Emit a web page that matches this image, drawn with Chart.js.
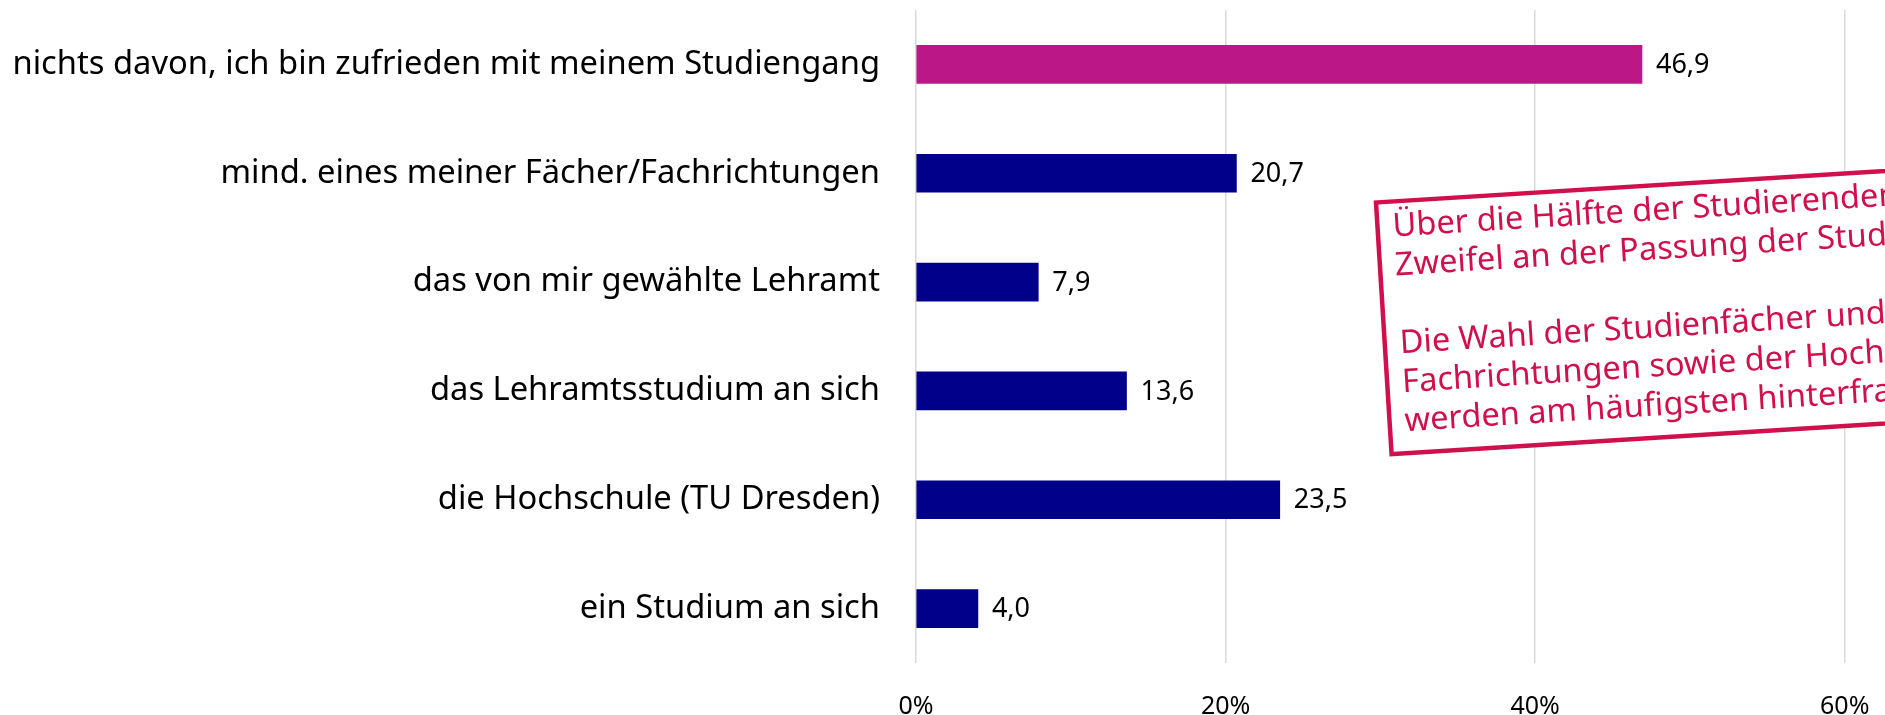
<!DOCTYPE html>
<html lang="de">
<head>
<meta charset="utf-8">
<title>Zweifel an der Studienwahl</title>
<script src="https://cdn.jsdelivr.net/npm/chart.js@4.4.1/dist/chart.umd.min.js"></script>
<style>
  html, body { margin: 0; padding: 0; background: #fff; overflow: hidden; }
  #wrap { width: 1885px; height: 715px; }
</style>
</head>
<body>
<div id="wrap"><canvas id="grafik"></canvas></div>
<script>
const kategorien = [
  'nichts davon, ich bin zufrieden mit meinem Studiengang',
  'mind. eines meiner Fächer/Fachrichtungen',
  'das von mir gewählte Lehramt',
  'das Lehramtsstudium an sich',
  'die Hochschule (TU Dresden)',
  'ein Studium an sich'
];
const anteile = [46.9, 20.7, 7.9, 13.6, 23.5, 4.0];
const tickWerte = [0, 20, 40, 60];
const hinweisZeilen = [
  'Über die Hälfte der Studierenden hat',
  'Zweifel an der Passung der Studienwahl.',
  '',
  'Die Wahl der Studienfächer und',
  'Fachrichtungen sowie der Hochschule',
  'werden am häufigsten hinterfragt.'
];

const PINK = '#bc1786';
const BLAU = '#00008b';
const ROT = '#d0104c';
const SCHRIFT = '"Noto Sans", "Open Sans", sans-serif';

// Werte rechts neben die Balken schreiben
const wertBeschriftung = {
  id: 'wertBeschriftung',
  afterDatasetsDraw(chart) {
    const ctx = chart.ctx;
    const meta = chart.getDatasetMeta(0);
    ctx.save();
    ctx.font = '27px ' + SCHRIFT;
    ctx.fillStyle = '#000';
    ctx.textAlign = 'left';
    ctx.textBaseline = 'middle';
    meta.data.forEach((bar, i) => {
      const text = anteile[i].toFixed(1).replace('.', ',');
      ctx.fillText(text, bar.x + 14, bar.y + 1);
    });
    ctx.restore();
  }
};

// gedrehter Hinweiskasten
const hinweisKasten = {
  id: 'hinweisKasten',
  afterDraw(chart) {
    const ctx = chart.ctx;
    ctx.save();
    ctx.translate(1376, 202.5);
    ctx.rotate(-3.55 * Math.PI / 180);
    ctx.fillStyle = '#fff';
    ctx.fillRect(0, 0, 700, 252);
    ctx.strokeStyle = ROT;
    ctx.lineWidth = 4.5;
    ctx.strokeRect(0, 0, 700, 252);
    ctx.fillStyle = ROT;
    ctx.font = '32.6px ' + SCHRIFT;
    ctx.textAlign = 'left';
    ctx.textBaseline = 'alphabetic';
    hinweisZeilen.forEach((zeile, i) => {
      if (zeile) ctx.fillText(zeile, 15, 35 + i * 39);
    });
    ctx.restore();
  }
};

new Chart(document.getElementById('grafik'), {
  type: 'bar',
  data: {
    labels: kategorien,
    datasets: [{
      data: anteile,
      backgroundColor: c => c.dataIndex === 0 ? PINK : BLAU,
      barThickness: 38
    }]
  },
  options: {
    indexAxis: 'y',
    responsive: true,
    maintainAspectRatio: false,
    animation: false,
    layout: { padding: { top: 10, left: 0, right: 0, bottom: 0 } },
    plugins: {
      legend: { display: false },
      tooltip: { enabled: false }
    },
    scales: {
      x: {
        min: 0,
        max: 62.6,
        afterBuildTicks: axis => {
          axis.ticks = tickWerte.map(v => ({ value: v }));
        },
        afterFit: axis => {
          axis.height = 52;
          axis.paddingLeft = 0;
          axis.paddingRight = 0;
        },
        ticks: {
          padding: 29,
          color: '#000',
          font: { family: SCHRIFT, size: 25 },
          callback: v => v + '%'
        },
        grid: { color: '#d9d9d9', lineWidth: 1.5, drawTicks: false },
        border: { display: false }
      },
      y: {
        afterFit: axis => {
          axis.width = 916;
          axis.paddingTop = 0;
          axis.paddingBottom = 0;
        },
        ticks: {
          padding: 36,
          color: '#000',
          font: { family: SCHRIFT, size: 32.7 }
        },
        grid: { display: false, drawTicks: false },
        border: { display: false }
      }
    }
  },
  plugins: [wertBeschriftung, hinweisKasten]
});
</script>
</body>
</html>
